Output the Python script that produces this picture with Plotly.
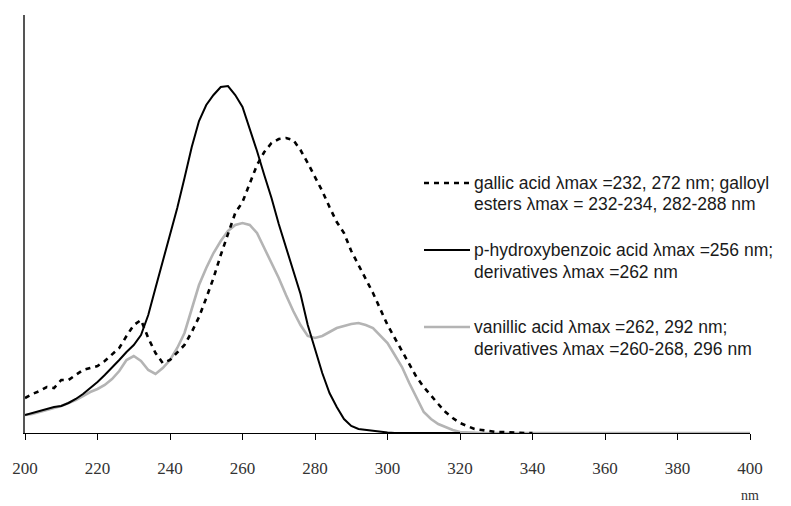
import plotly.graph_objects as go

# wavelength grid (nm)
wavelength = list(range(200, 342, 2)) + [350, 360, 370, 380, 390, 400]

# relative absorbance (arbitrary units)
gallic = [35, 39, 42, 46, 45, 53, 53, 58, 63, 65,
          67, 72, 79, 85, 97, 108, 113, 95, 80, 70,
          73, 80, 88, 101, 116, 135, 155, 178, 200, 220,
          231, 249, 268, 281, 290, 294, 295, 293, 283, 270,
          256, 242, 226, 211, 200, 182, 168, 154, 140, 124,
          108, 95, 82, 69, 56, 46, 37, 29, 21, 15,
          10, 7, 4, 3, 2, 1, 1, 0.5, 0, 0,
          0, None, None, None, None, None, None]

p_hydroxybenzoic = [18, 20, 22, 24, 26, 27, 30, 34, 39, 45,
                    51, 58, 65, 73, 81, 88, 98, 118, 145, 172,
                    198, 225, 255, 286, 312, 328, 338, 346, 347, 338,
                    326, 305, 282, 258, 235, 209, 186, 163, 139, 108,
                    84, 60, 40, 26, 14, 7, 4, 3, 2, 1,
                    0.5, 0, 0, 0, 0, 0, 0, 0, 0, 0,
                    0, None, None, None, None, None, None, None, None, None,
                    None, None, None, None, None, None, None]

vanillic = [18, 19, 21, 23, 25, 27, 30, 33, 37, 41,
            44, 48, 54, 62, 73, 77, 72, 63, 59, 65,
            73, 85, 100, 124, 148, 165, 180, 192, 202, 208,
            210, 208, 200, 185, 170, 155, 138, 122, 108, 97,
            95, 97, 101, 105, 107, 109, 110, 108, 105, 98,
            90, 78, 66, 50, 36, 21, 14, 9, 6, 3,
            1, 0.5, 0, 0, 0, 0, 0, 0, 0, 0,
            0, 0, 0, 0, 0, 0, 0]

x_ticks = [200, 220, 240, 260, 280, 300, 320, 340, 360, 380, 400]

legend_lines = [
    ["gallic acid λmax =232, 272 nm; galloyl", "esters λmax = 232-234, 282-288 nm"],
    ["p-hydroxybenzoic acid λmax =256 nm;", "derivatives λmax =262 nm"],
    ["vanillic acid λmax =262, 292 nm;", "derivatives λmax =260-268, 296 nm"],
]

W, H = 791, 506
L, R, T, B = 25, 41, 15, 73
PW, PH = W - L - R, H - T - B


def px(x):
    return (x - L) / PW


def py(y):
    return (H - B - y) / PH


fig = go.Figure()
fig.add_trace(go.Scatter(x=wavelength, y=vanillic, mode="lines",
                         line=dict(color="#b4b4b4", width=2.6),
                         connectgaps=False, showlegend=False))
fig.add_trace(go.Scatter(x=wavelength, y=gallic, mode="lines",
                         line=dict(color="black", width=2.6, dash="5px,5px"),
                         connectgaps=False, showlegend=False))
fig.add_trace(go.Scatter(x=wavelength, y=p_hydroxybenzoic, mode="lines",
                         line=dict(color="black", width=2),
                         connectgaps=False, showlegend=False))

styles = [dict(color="black", width=2.6, dash="5px,5px"),
          dict(color="black", width=2),
          dict(color="#b4b4b4", width=2.6)]
rows = [(183, 204), (250, 272), (327, 349)]

shapes = []
annotations = []
for (y1, y2), lines, st in zip(rows, legend_lines, styles):
    shapes.append(dict(type="line", xref="paper", yref="paper",
                       x0=px(424), x1=px(470), y0=py(y1), y1=py(y1), line=st))
    for yy, txt in zip((y1, y2), lines):
        annotations.append(dict(x=px(472), y=py(yy), xref="paper", yref="paper",
                                text=txt, showarrow=False, xanchor="left",
                                yanchor="middle",
                                font=dict(family="Liberation Sans, Arial", size=17.5,
                                          color="#1a1a1a")))

annotations.append(dict(x=px(750), y=py(495), xref="paper", yref="paper",
                        text="nm", showarrow=False, xanchor="center",
                        yanchor="middle",
                        font=dict(family="Liberation Serif, Times New Roman",
                                  size=14, color="#333")))

fig.update_layout(
    width=W, height=H,
    margin=dict(l=L, r=R, t=T, b=B, pad=0),
    paper_bgcolor="white", plot_bgcolor="white",
    showlegend=False,
    shapes=shapes, annotations=annotations,
    xaxis=dict(range=[200, 400], tickvals=x_ticks,
               ticktext=[str(v) for v in x_ticks],
               showgrid=False, zeroline=False,
               showline=True, linecolor="black", linewidth=1,
               ticks="outside", ticklen=6, tickcolor="black", tickwidth=1,
               ticklabelstandoff=14,
               tickfont=dict(family="Liberation Serif, Times New Roman",
                             size=17, color="#333")),
    yaxis=dict(range=[0, 418], showgrid=False, zeroline=False,
               showline=True, linecolor="#555", linewidth=1.5,
               showticklabels=False, ticks=""),
)

fig.write_html("out.html")
